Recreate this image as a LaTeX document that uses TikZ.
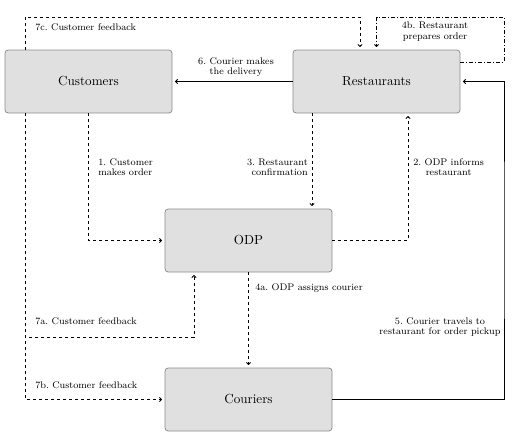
\documentclass[tikz,border=0pt]{standalone}
\usetikzlibrary{arrows.meta}
\definecolor{boxfill}{HTML}{E0E0E0}
\definecolor{boxline}{HTML}{8C8C8C}
\begin{document}
\begin{tikzpicture}[x=0.8pt,y=-0.8pt,
  entity/.style={draw=boxline,fill=boxfill,rounded corners=2.5pt,line width=0.6pt,
    minimum width=133.6pt,minimum height=50.4pt,inner sep=0pt,
    font=\fontsize{10.5}{12}\selectfont},
  lbl/.style={font=\fontsize{7.7}{8.3}\selectfont,inner sep=0pt},
  conn/.style={line width=0.7pt,-{To[length=2.2pt,width=4pt]},shorten >=2.2pt},
  dsh/.style={dash pattern=on 2.4pt off 2.4pt},
  dshdot/.style={dash pattern=on 3pt off 1.6pt on 1pt off 1.6pt}]
\useasboundingbox (0,0) rectangle (515,439);
\node[entity] (cu) at (88.5,81.5) {Customers};
\node[entity] (re) at (376.5,81.5) {Restaurants};
\node[entity] (od) at (248.5,240.5) {ODP};
\node[entity] (co) at (248.5,399.5) {Couriers};
% helper coordinates
\coordinate (a7) at (25,17);
\coordinate (b7) at (360,17);
\coordinate (c4) at (504,62);
\coordinate (d4) at (504,17);
\coordinate (e4) at (376.5,17);
\coordinate (f5) at (504,240);
\coordinate (h3) at (312,0);
\coordinate (i2) at (408,0);
\coordinate (j7) at (194,337);
% connectors
\draw[conn] (re.west) -- (cu.east);
\draw[conn,dsh] (cu.south) |- (od.west);
\draw[conn,dsh] (re.south -| h3) -- (od.north -| h3);
\draw[conn,dsh] (od.east) -| (re.south -| i2);
\draw[conn,dsh] (od.south) -- (co.north);
\draw[conn,dsh] (cu.south -| a7) |- (j7) -- (od.south -| j7);
\draw[conn,dsh] (cu.south -| a7) |- (co.west);
\draw[conn,dsh] (cu.north -| a7) -- (a7) -- (b7) -- (re.north -| b7);
\draw[conn,dshdot] (re.east |- c4) -- (c4) -- (d4) -- (e4) -- (re.north -| e4);
\draw[conn] (co.east) -| (f5) |- (re.east);
% labels
\node[lbl,align=center] (l6) at (236,67) {6.\ Courier makes\\the delivery};
\node[lbl,align=left,anchor=west] (l1) at (98,167) {1.\ Customer\\makes order};
\node[lbl,align=right,anchor=east] (l3) at (308,167) {3.\ Restaurant\\confirmation};
\node[lbl,align=center,anchor=west] (l2) at (413,167) {2.\ ODP informs\\restaurant};
\node[lbl,anchor=west] (l4a) at (255,288) {4a.\ ODP assigns courier};
\node[lbl,anchor=west] (l7a) at (35,321) {7a.\ Customer feedback};
\node[lbl,anchor=west] (l7b) at (35,385) {7b.\ Customer feedback};
\node[lbl,anchor=west] (l7c) at (35,27) {7c.\ Customer feedback};
\node[lbl,align=center] (l4b) at (435,31.5) {4b.\ Restaurant\\prepares order};
\node[lbl,align=center] (l5) at (440,327) {5.\ Courier travels to\\restaurant for order pickup};
\end{tikzpicture}
\end{document}
